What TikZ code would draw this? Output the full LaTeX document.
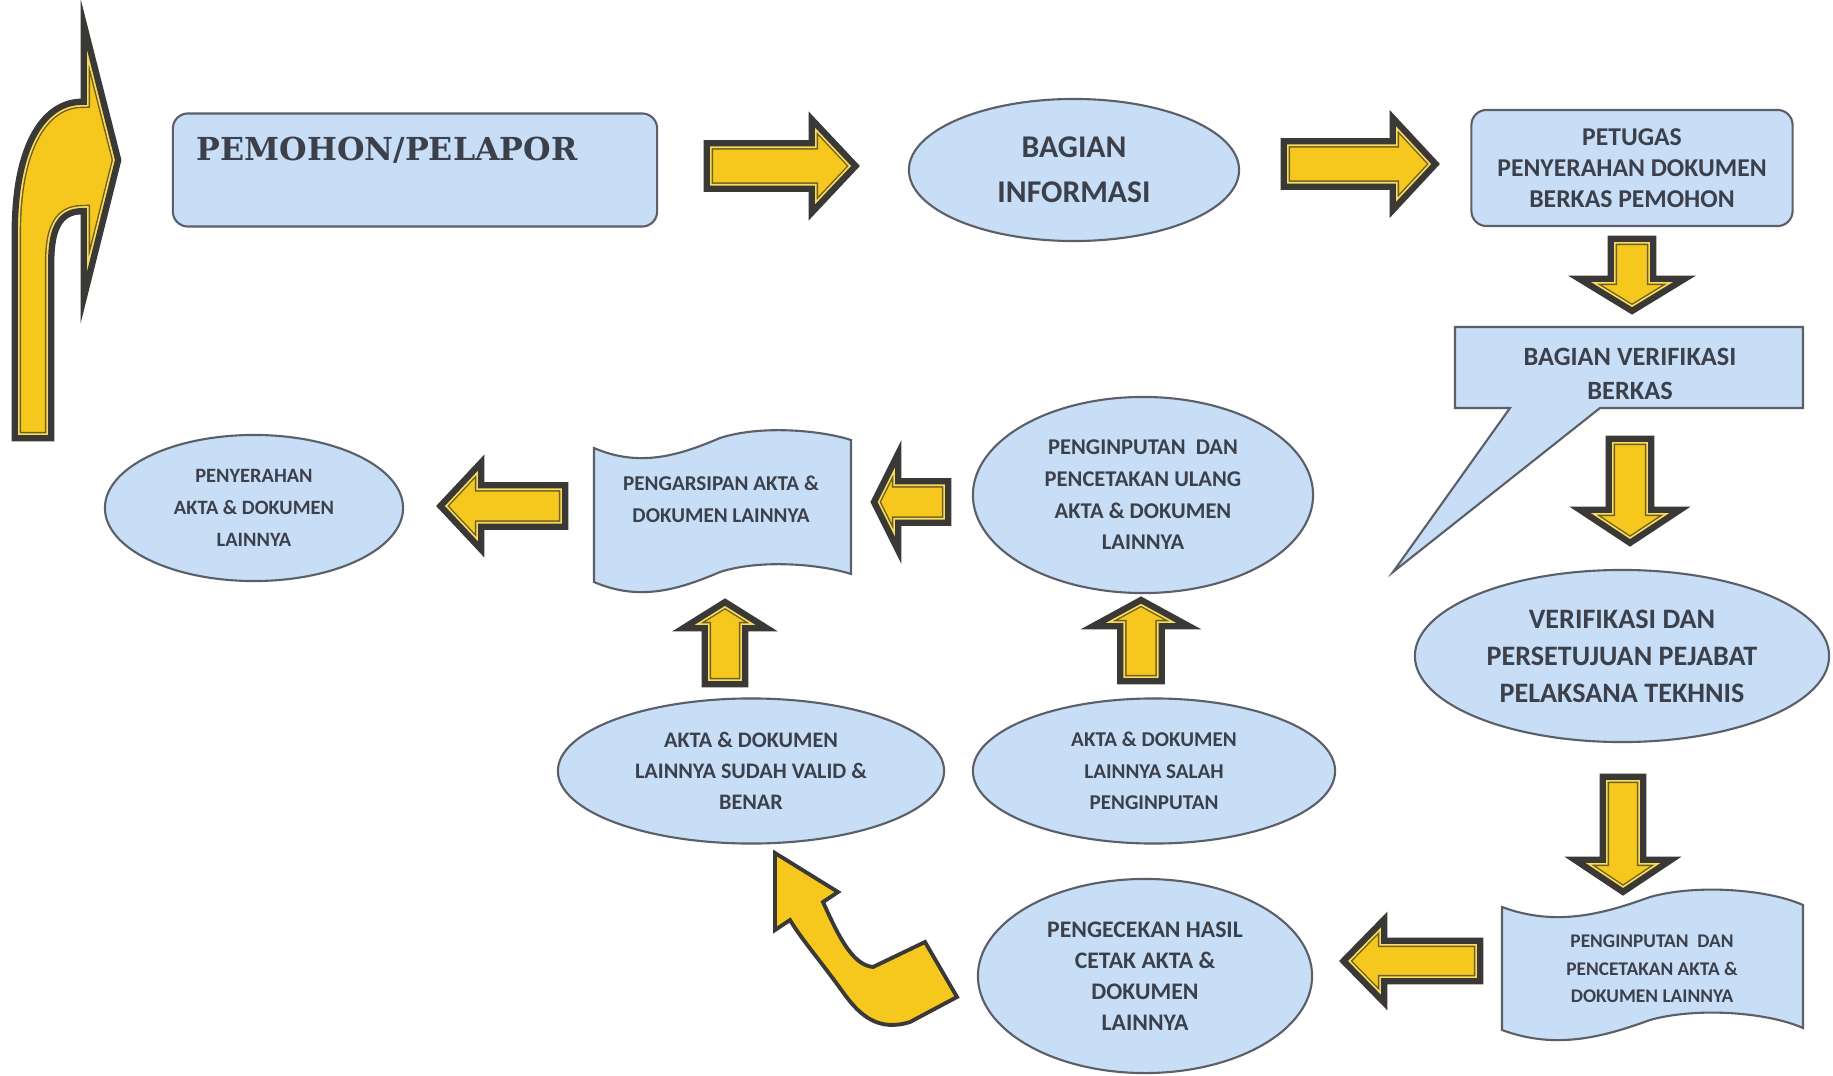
\documentclass[tikz,border=0pt]{standalone}
\usepackage{fontspec}
\newfontfamily\labfont{Carlito}
\newfontfamily\serfont{DejaVu Serif}
\usetikzlibrary{shapes.geometric}
\definecolor{boxblue}{HTML}{C8DDF6}
\definecolor{boxline}{HTML}{5A5F68}
\definecolor{txt}{HTML}{3C404B}
\definecolor{ayellow}{HTML}{F6C81E}
\definecolor{alight}{HTML}{F8DC60}
\definecolor{adark}{HTML}{3B3936}
\definecolor{aolive}{HTML}{6E5E20}
\tikzset{
 shp/.style={draw=boxline, fill=boxblue, line width=0.6pt, text=txt, align=center, inner sep=0pt},
 ell/.style={shp, ellipse},
 rbox/.style={shp, rectangle, rounded corners=0.15cm},
 lbl/.style={text=txt, align=center, inner sep=0pt},
}
\newcommand\fz[2]{\labfont\bfseries\fontsize{#1}{#2}\selectfont}
\newcommand\arrowlook[1]{%
 \begin{scope}
  \clip #1;
  \fill[ayellow] #1;
  \draw[aolive, line width=4.6pt, line join=miter, miter limit=25] #1;
  \draw[alight, line width=3.8pt, line join=miter, miter limit=25] #1;
  \draw[adark, line width=2.8pt, line join=miter, miter limit=25] #1;
 \end{scope}
 \draw[adark, line width=0.8pt, line join=miter] #1;
}
\newcommand\blockarrow[7]{% name, tail, angle, length, shaft w, head w, head l
 \begin{scope}[shift={#2}, rotate=#3]
  \coordinate (#1) at (0,0);
  \arrowlook{(0,-#5/2) -- (#4-#7,-#5/2) -- (#4-#7,-#6/2) -- (#4,0) -- (#4-#7,#6/2) -- (#4-#7,#5/2) -- (0,#5/2) -- cycle}
 \end{scope}}
\begin{document}
\begin{tikzpicture}[x=0.01cm, y=-0.01cm]
\useasboundingbox (0,0) rectangle (1833,1076);
\fill[white] (0,0) rectangle (1833,1076);

% top row
\node[rbox, minimum width=4.84cm, minimum height=1.13cm] (pem) at (415,170) {};
\node[lbl, anchor=base west, font={\serfont\bfseries\fontsize{9}{11}\selectfont}] (pemtxt) at (196,161) {PEMOHON/PELAPOR};
\node[ell, minimum width=3.30cm, minimum height=1.42cm, font={\fz{9}{12.8}}] (info) at (1074,170) {BAGIAN\\INFORMASI};
\node[rbox, minimum width=3.21cm, minimum height=1.16cm, font={\fz{7.3}{8.9}}] (petugas) at (1632,168) {PETUGAS\\PENYERAHAN DOKUMEN\\BERKAS PEMOHON};

% callout
\draw[shp] (1455,327) -- (1803,327) -- (1803,408) -- (1600,408) -- (1393,572) -- (1510,408) -- (1455,408) -- cycle;
\node[lbl, font={\fz{7.5}{9.5}}] (verif) at (1630,374) {BAGIAN VERIFIKASI\\BERKAS};

\node[ell, minimum width=4.14cm, minimum height=1.72cm, font={\fz{8}{10.5}}] (setuju) at (1622,656) {VERIFIKASI DAN\\PERSETUJUAN PEJABAT\\PELAKSANA TEKHNIS};

% tape bottom right
\draw[shp] (1502,907) .. controls (1556,927) and (1603,914) .. (1650,897) .. controls (1696,884) and (1767,889) .. (1803,905)
 -- (1803,1028) .. controls (1767,1012) and (1696,1007) .. (1650,1020) .. controls (1603,1037) and (1556,1050) .. (1502,1030) -- cycle;
\node[lbl, font={\fz{5.5}{7.8}}] (cetak) at (1652,969) {PENGINPUTAN\ \ DAN\\PENCETAKAN AKTA \&\\DOKUMEN LAINNYA};

\node[ell, minimum width=3.34cm, minimum height=1.94cm, font={\fz{6.75}{8.8}}] (cek) at (1145,976) {PENGECEKAN HASIL\\CETAK AKTA \&\\DOKUMEN\\LAINNYA};
\node[ell, minimum width=3.62cm, minimum height=1.45cm, font={\fz{6}{8.9}}] (salah) at (1154,771) {AKTA \& DOKUMEN\\LAINNYA SALAH\\PENGINPUTAN};
\node[ell, minimum width=3.40cm, minimum height=1.96cm, font={\fz{6.4}{9}}] (ulang) at (1143,495) {PENGINPUTAN\ \ DAN\\PENCETAKAN ULANG\\AKTA \& DOKUMEN\\LAINNYA};

% tape archive
\draw[shp] (594,448) .. controls (640,468) and (680,455) .. (720,438) .. controls (760,425) and (820,430) .. (851,440)
 -- (851,574) .. controls (820,564) and (760,559) .. (720,572) .. controls (680,589) and (640,602) .. (594,582) -- cycle;
\node[lbl, font={\fz{6}{9}}] (arsip) at (721,499) {PENGARSIPAN AKTA \&\\DOKUMEN LAINNYA};

\node[ell, minimum width=3.86cm, minimum height=1.45cm, font={\fz{6.3}{8.9}}] (valid) at (751,771) {AKTA \& DOKUMEN\\LAINNYA SUDAH VALID \&\\BENAR};
\node[ell, minimum width=2.98cm, minimum height=1.46cm, font={\fz{5.8}{9}}] (serah) at (254,508) {PENYERAHAN\\AKTA \& DOKUMEN\\LAINNYA};

% block arrows
\blockarrow{a1}{(705,166)}{0}{153}{49}{102}{48}
\blockarrow{a2}{(1282,164)}{0}{156}{49}{101}{47}
\blockarrow{a3}{(1632,237)}{270}{76}{46}{118}{36}
\blockarrow{a4}{(1630,437)}{270}{108}{46}{112}{37}
\blockarrow{a5}{(1623,775)}{270}{119}{44}{108}{36}
\blockarrow{a6}{(1482,961)}{180}{141}{44}{92}{45}
\blockarrow{a7}{(1141,683)}{90}{85}{45}{110}{30}
\blockarrow{a8}{(950,502)}{180}{78}{45}{112}{28}
\blockarrow{a9}{(725,686)}{90}{86}{44}{96}{30}
\blockarrow{a10}{(567,506)}{180}{129}{45}{96}{45}

% big curved arrow at left
\arrowlook{(13,440) -- (13,233) .. controls (13,140) and (45,100) .. (82,100) -- (82,10) -- (120,160) -- (82,312) -- (82,213) .. controls (62,213) and (53,228) .. (53,262) -- (53,440) -- cycle}

% bent arrow
\filldraw[fill=ayellow, draw=adark, line width=1.1pt, line join=miter] (775,853) -- (838,892) -- (823,902) .. controls (838,935) and (852,965) .. (873,967) -- (925,942) -- (957,997) -- (910,1022) .. controls (878,1032) and (860,1015) .. (845,995) .. controls (820,960) and (802,940) .. (790,920) -- (775,930) -- cycle;
\end{tikzpicture}
\end{document}
